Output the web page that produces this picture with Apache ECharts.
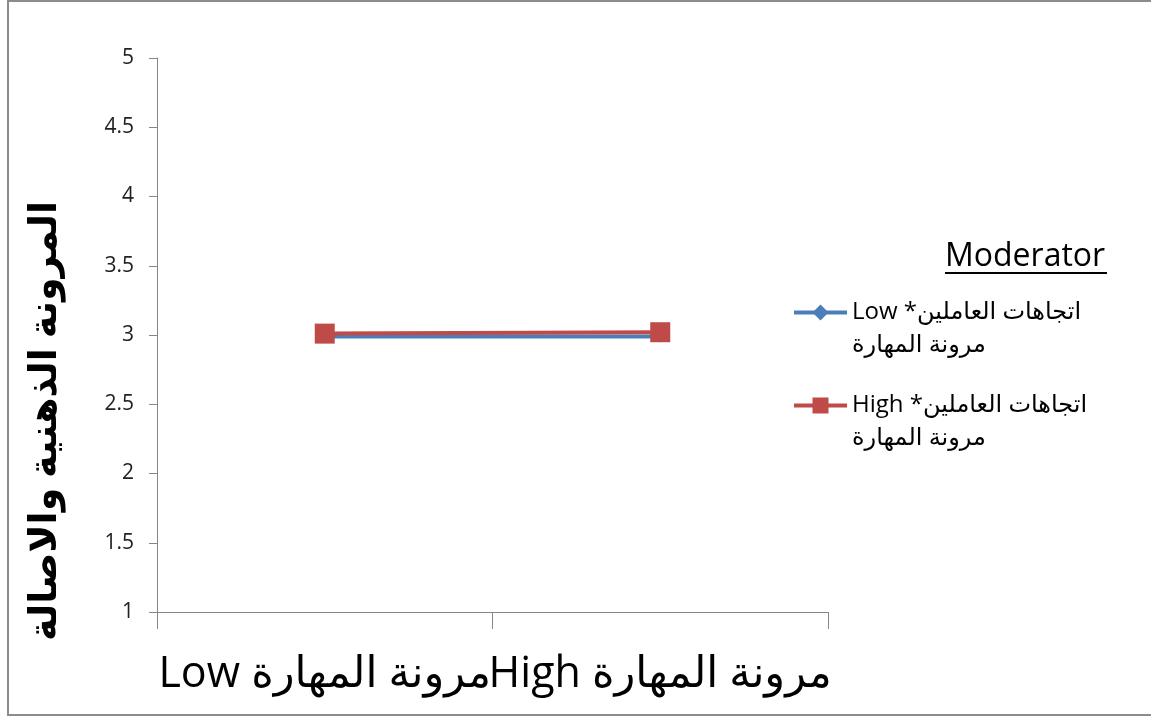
<!DOCTYPE html>
<html><head><meta charset="utf-8">
<script src="https://cdn.jsdelivr.net/npm/echarts@6/dist/echarts.min.js"></script>
<style>html,body{margin:0;padding:0;background:#fff}#c{width:1151px;height:717px}</style>
</head><body><div id="c"></div>
<script>
const categories = ['Low مرونة المهارة', 'High مرونة المهارة'];
const seriesNames = ['Low *اتجاهات العاملين\nمرونة المهارة', 'High *اتجاهات العاملين\nمرونة المهارة'];
const lowValues = [2.99, 2.99];
const highValues = [3.01, 3.02];
const yTicks = [1, 1.5, 2, 2.5, 3, 3.5, 4, 4.5, 5];
const yTitle = 'المرونة الذهنية والاصالة';
const legendTitle = 'Moderator';

const FONT = "'Open Sans', 'DejaVu Sans', sans-serif";
const chart = echarts.init(document.getElementById('c'));
const legendText = {fontFamily: FONT, fontSize: 24, color: '#000', lineHeight: 33};
chart.setOption({
  animation: false,
  grid: {left: 157, right: 323, top: 58, bottom: 105},
  xAxis: {
    type: 'category', data: categories, boundaryGap: true,
    axisLine: {lineStyle: {color: '#868686', width: 1}},
    axisTick: {show: true, length: 17, lineStyle: {color: '#868686'}},
    axisLabel: {fontFamily: FONT, fontSize: 43, color: '#000', margin: 41, interval: 0}
  },
  yAxis: {
    type: 'value', min: yTicks[0], max: yTicks[yTicks.length - 1], interval: 0.5,
    splitLine: {show: false},
    axisLine: {show: true, lineStyle: {color: '#868686', width: 1}},
    axisTick: {show: true, length: 8, lineStyle: {color: '#868686'}},
    axisLabel: {fontFamily: FONT, fontSize: 21, color: '#222', margin: 23}
  },
  legend: [
    {data: [seriesNames[0]], orient: 'vertical', left: 787, top: 258, itemWidth: 53, itemHeight: 20,
     lineStyle: {width: 4}, formatter: n => '\n' + n, textStyle: legendText},
    {data: [seriesNames[1]], orient: 'vertical', left: 787, top: 351, itemWidth: 53, itemHeight: 20,
     lineStyle: {width: 4}, formatter: n => '\n' + n, textStyle: legendText}
  ],
  graphic: [
    {type: 'rect', shape: {x: 8, y: 1, width: 1160, height: 714}, style: {fill: 'none', stroke: '#8c8c8c', lineWidth: 2}, silent: true},
    {type: 'text', left: 945, top: 241, style: {text: legendTitle, font: "32px " + FONT, fill: '#000'}},
    {type: 'rect', shape: {x: 945, y: 272, width: 162, height: 2}, style: {fill: '#000'}},
    {type: 'text', x: 45, y: 421, rotation: Math.PI / 2,
     style: {text: yTitle, font: "bold 38px " + FONT, fill: '#000', align: 'center', verticalAlign: 'middle'}}
  ],
  series: [
    {name: seriesNames[0], type: 'line', data: lowValues, symbol: 'diamond', symbolSize: 12,
     itemStyle: {color: '#4a7ebb'}, lineStyle: {color: '#4a7ebb', width: 4}},
    {name: seriesNames[1], type: 'line', data: highValues, symbol: 'rect', symbolSize: 20,
     itemStyle: {color: '#be4b48'}, lineStyle: {color: '#be4b48', width: 4}}
  ]
});
</script></body></html>
